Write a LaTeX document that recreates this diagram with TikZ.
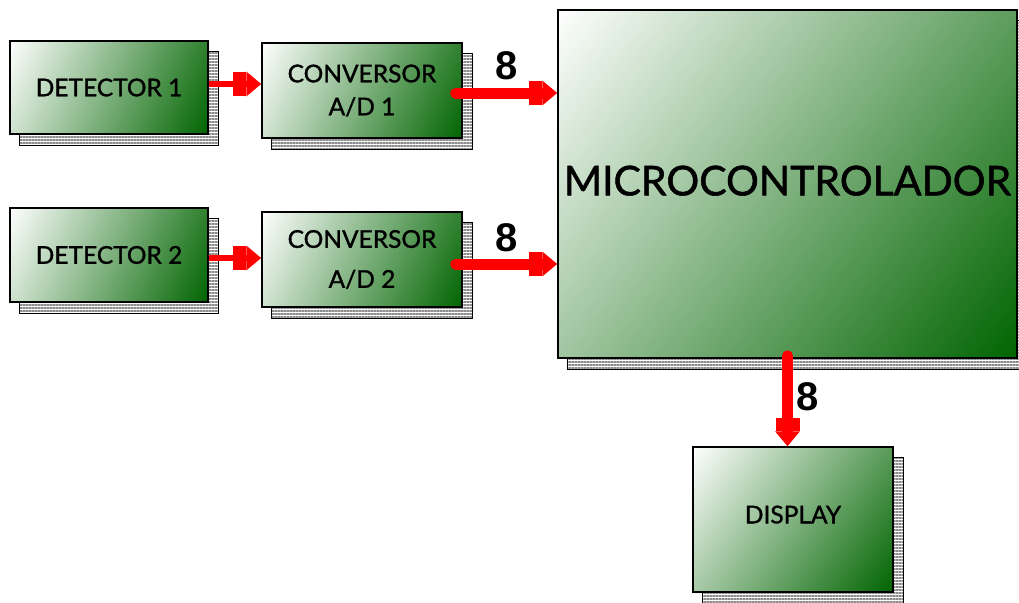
\documentclass[tikz,border=0pt]{standalone}
\usepackage{fontspec}
\newfontfamily\boxfont{Lato}[FakeBold=1.3]
\newfontfamily\numfont{Liberation Sans}
\usetikzlibrary{arrows.meta,patterns.meta,backgrounds,positioning}
\definecolor{dkgreen}{RGB}{0,100,0}
\definecolor{pagegray}{RGB}{140,140,140}
\tikzset{
  blk/.style={draw=black, line width=1.5pt, inner sep=0pt,
    font=\boxfont\fontsize{24.5}{29}\selectfont, align=center, text=black},
  pages/.style={draw=black, line width=1.2pt, pattern={Lines[angle=0,distance=3pt,line width=1.1pt]}, pattern color=pagegray},
  bus/.style={draw=red, line width=11pt, line cap=round,
    -{Rectangle[length=13pt,width=24pt,sep=0pt]Triangle[length=15pt,width=24pt,sep=0pt]}},
  sig/.style={draw=red, line width=5.5pt,
    -{Rectangle[length=13pt,width=24pt,sep=0pt]Triangle[length=15pt,width=24pt,sep=0pt]}},
  lbl/.style={font=\numfont\bfseries\fontsize{40}{40}\selectfont, inner sep=0pt, text=black}
}
% diagonal gradient fill: white at the top-left corner, dark green at the bottom-right corner
\newcommand\diagfill[1]{%
  \begin{scope}
    \clip (#1.south west) rectangle (#1.north east);
    \path (#1.north west) coordinate (pa) (#1.south east) coordinate (pb);
    \pgfpointdiff{\pgfpointanchor{pa}{center}}{\pgfpointanchor{pb}{center}}%
    \pgfgetlastxy{\gdx}{\gdy}%
    \pgfmathsetmacro{\gang}{atan2(\gdy,\gdx)}%
    \pgfmathsetmacro{\glen}{veclen(\gdx,\gdy)}%
    \begin{scope}[transform canvas={shift={(pa)}, rotate=\gang}]
      \shade[left color=white, right color=dkgreen] (0pt,-\glen pt) rectangle (\glen pt,\glen pt);
    \end{scope}
  \end{scope}}
\begin{document}
\begin{tikzpicture}[x=1pt,y=-1pt]
\useasboundingbox (0,0) rectangle (1019,602);
% boxes
\node[blk, minimum width=198pt, minimum height=93pt] (d1) at (109,87.5) {DETECTOR 1};
\node[blk, minimum width=200pt, minimum height=95pt] (c1) at (362,90.5) {CONVERSOR\\[4pt]A/D 1};
\node[blk, minimum width=198pt, minimum height=94pt] (d2) at (109,255) {DETECTOR 2};
\node[blk, minimum width=200pt, minimum height=95pt] (c2) at (362,259.5) {CONVERSOR\\[11pt]A/D 2};
\node[blk, minimum width=459pt, minimum height=348pt, text depth=7pt, font=\boxfont\fontsize{41}{41}\selectfont] (m) at (787.5,184) {MICROCONTROLADOR};
\node[blk, minimum width=200pt, minimum height=145pt, text depth=10pt] (disp) at (793,519.5) {DISPLAY};
% page stacks and gradient fills behind the box outlines
\begin{pgfonlayer}{background}
  \fill[white] (0,0) rectangle (1019,602);
  \foreach \b in {d1,c1,d2,c2,m,disp}{
    \path[pages] ([shift={(10pt,-11pt)}]\b.south west) rectangle ([shift={(10pt,-11pt)}]\b.north east);
    \diagfill{\b}
  }
\end{pgfonlayer}
% connectors
\draw[sig] ([yshift=3.5pt]d1.east) -- ([yshift=3.5pt]d1.east -| c1.west);
\draw[sig] ([yshift=-3pt]d2.east) -- ([yshift=-3pt]d2.east -| c2.west);
\draw[bus] ([xshift=-7pt,yshift=-2.5pt]c1.east) -- ([yshift=-2.5pt]c1.east -| m.west)
  node[lbl, midway, above=8pt] (n1) {8};
\draw[bus] ([xshift=-7pt,yshift=-4.5pt]c2.east) -- ([yshift=-4.5pt]c2.east -| m.west)
  node[lbl, midway, above=7pt] (n2) {8};
\draw[bus] ([yshift=3pt]m.south) -- (m.south |- disp.north)
  node[lbl, pos=0.45, right=3pt] (n3) {8};
\end{tikzpicture}
\end{document}
